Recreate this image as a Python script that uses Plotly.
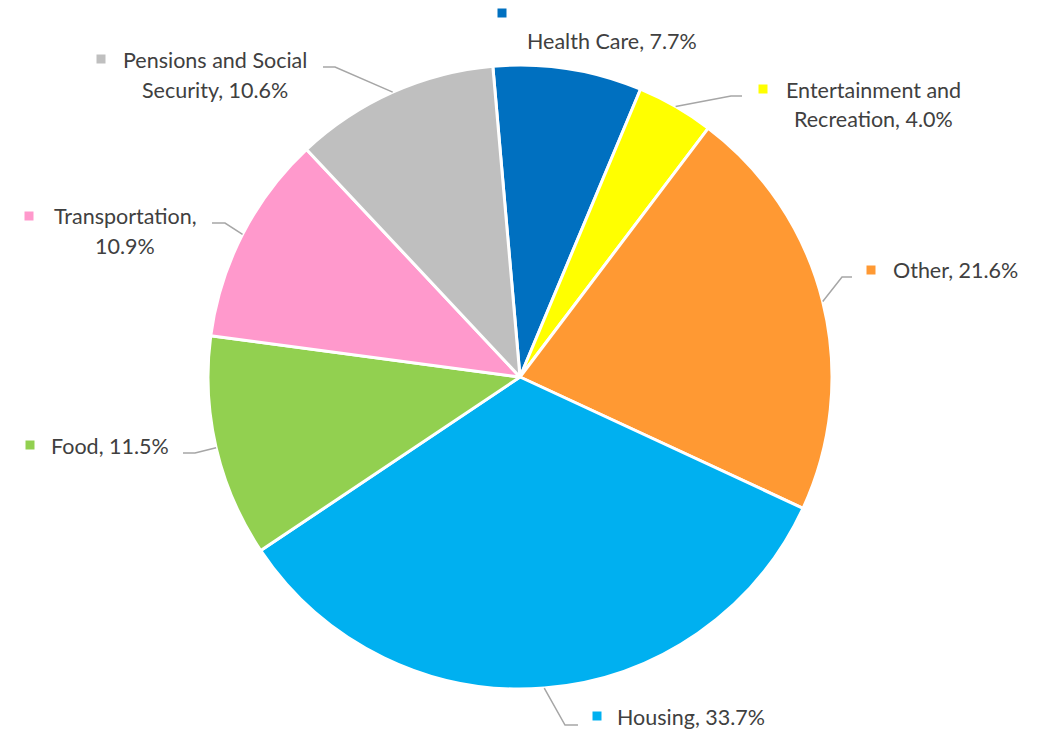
import math
import plotly.graph_objects as go

# ---- data ----
categories = ["Health Care", "Entertainment and Recreation", "Other", "Housing",
              "Food", "Transportation", "Pensions and Social Security"]
shares = [7.7, 4.0, 21.6, 33.7, 11.5, 10.9, 10.6]
colors = ["#0070C0", "#FFFF00", "#FF9933", "#00B0F0", "#92D050", "#FF99CC", "#BFBFBF"]

# label text lines (as displayed)
label_lines = [
    ["", "Health Care, 7.7%"],
    ["Entertainment and", "Recreation, 4.0%"],
    ["Other, 21.6%"],
    ["Housing, 33.7%"],
    ["Food, 11.5%"],
    ["Transportation,", "10.9%"],
    ["Pensions and Social", "Security, 10.6%"],
]

# ---- layout constants (pixels) ----
W, H = 1038, 732
CX, CY, R = 520, 377, 312
ROT = -5
FONT = "Lato"
FS = 21.5
TXT = "#404040"
LEAD = "#A6A6A6"

def px(x):
    return x / W

def py(y):
    return 1 - y / H

# label layout: marker center, text center x, line y's, leader elbow/end points (or None)
layout_info = [
    dict(mk=(502, 13), tx=612, ly=[None, 41], lead=None),
    dict(mk=(763, 89), tx=873, ly=[90, 119], lead=[(731, 96), (742, 96)]),
    dict(mk=(871, 270), tx=955, ly=[270], lead=[(842, 277), (852, 277)]),
    dict(mk=(597, 716), tx=691, ly=[717], lead=[(565, 725), (578, 725)]),
    dict(mk=(30, 445), tx=110, ly=[446], lead=[(195, 453), (183, 453)]),
    dict(mk=(29, 216), tx=125, ly=[216, 246], lead=[(225, 223), (212, 223)]),
    dict(mk=(101, 59), tx=215, ly=[60, 90], lead=[(335, 67), (323, 67)]),
]

fig = go.Figure(go.Pie(
    labels=categories,
    values=shares,
    sort=False,
    direction="clockwise",
    rotation=ROT,
    marker=dict(colors=colors, line=dict(color="white", width=3)),
    textinfo="none",
    hoverinfo="label+percent",
    domain=dict(x=[px(CX - R), px(CX + R)], y=[py(CY + R), py(CY - R)]),
))

annotations = []
shapes = []
total = sum(shares)
cum = 0.0
for i, (v, lines, info) in enumerate(zip(shares, label_lines, layout_info)):
    mid = ROT + (cum + v / 2) / total * 360
    cum += v
    # text lines
    for t, y in zip(lines, info["ly"]):
        if not t:
            continue
        annotations.append(dict(
            x=px(info["tx"]), y=py(y), xref="paper", yref="paper",
            text=t, showarrow=False, xanchor="center", yanchor="middle",
            font=dict(family=FONT, size=FS, color=TXT),
        ))
    # legend key square
    mx, my = info["mk"]
    s = 4.5
    shapes.append(dict(type="rect", xref="paper", yref="paper",
                       x0=px(mx - s), x1=px(mx + s), y0=py(my + s), y1=py(my - s),
                       fillcolor=colors[i], line=dict(width=0)))
    # leader line from slice mid-edge
    if info["lead"]:
        a = math.radians(mid)
        ex = CX + R * math.sin(a)
        ey = CY - R * math.cos(a)
        pts = [(ex, ey)] + info["lead"]
        path = "M " + " L ".join(f"{px(x):.5f},{py(y):.5f}" for x, y in pts)
        shapes.append(dict(type="path", xref="paper", yref="paper", path=path,
                           line=dict(color=LEAD, width=1.5)))

fig.update_layout(
    width=W, height=H,
    margin=dict(l=0, r=0, t=0, b=0),
    paper_bgcolor="white",
    plot_bgcolor="white",
    showlegend=False,
    annotations=annotations,
    shapes=shapes,
)

fig.write_html("out.html")
